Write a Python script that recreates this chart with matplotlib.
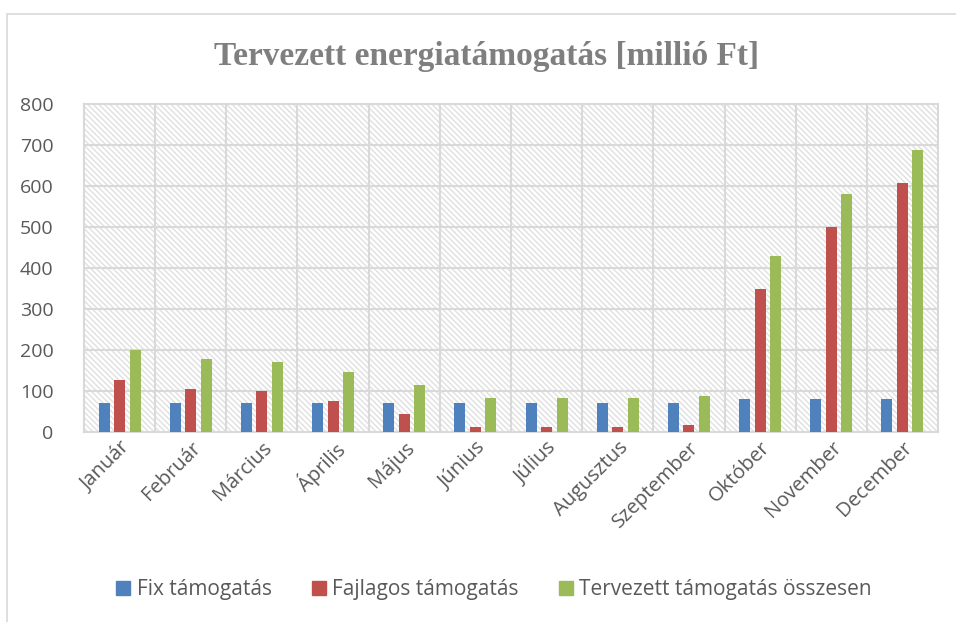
import numpy as np
import matplotlib.pyplot as plt
from matplotlib.patches import Rectangle
from matplotlib.lines import Line2D

plt.rcParams['hatch.color'] = '#e0e0e0'
plt.rcParams['hatch.linewidth'] = 1.0

months = ['Január', 'Február', 'Március', 'Április', 'Május', 'Június',
          'Július', 'Augusztus', 'Szeptember', 'Október', 'November', 'December']
fix = [70, 70, 70, 70, 70, 70, 70, 70, 70, 80, 80, 80]
fajlagos = [128, 106, 100, 75, 43, 13, 11, 12, 18, 349, 501, 608]
osszesen = [199, 177, 171, 146, 115, 84, 84, 84, 89, 429, 581, 688]

series = [
    ('Fix támogatás', fix, '#4f81bd'),
    ('Fajlagos támogatás', fajlagos, '#c0504d'),
    ('Tervezett támogatás összesen', osszesen, '#9bbb59'),
]

fig = plt.figure(figsize=(9.56, 6.22), dpi=100)
# outer chart border
fig.patches.append(Rectangle((7 / 956, -0.05), 1.0, 1 - 14 / 622 + 0.05,
                             transform=fig.transFigure, fill=False,
                             edgecolor='#d9d9d9', lw=1.2))

ax = fig.add_axes([84 / 956, 1 - 432 / 622, 854 / 956, 328 / 622])
x = np.arange(len(months))
w = 0.155
off = 0.218
for i, (name, vals, col) in enumerate(series):
    ax.bar(x + (i - 1) * off, vals, width=w, color=col, zorder=3)

ax.set_xlim(-0.5, len(months) - 0.5)
ax.set_ylim(0, 800)
ax.set_yticks(range(0, 801, 100))

# hatched background
ax.add_patch(Rectangle((0, 0), 1, 1, transform=ax.transAxes, facecolor='white',
                       hatch='\\' * 6, edgecolor='#e0e0e0', lw=0, zorder=0))
for yv in range(100, 800, 100):
    ax.axhline(yv, color='#d9d9d9', lw=1.5, zorder=1)
for xv in np.arange(0.5, len(months) - 0.5, 1):
    ax.axvline(xv, color='#d9d9d9', lw=1.5, zorder=1)
for s in ax.spines.values():
    s.set_color('#d9d9d9')
    s.set_linewidth(1.5)

ax.set_xticks(x)
ax.set_xticklabels(months, rotation=45, ha='right', rotation_mode='anchor',
                   fontsize=14.5, color='#595959', family='Open Sans')
ax.tick_params(axis='both', length=0)
ax.tick_params(axis='x', pad=4)
ax.tick_params(axis='y', pad=22)
for lab in ax.get_yticklabels():
    lab.set_fontsize(14)
    lab.set_color('#595959')
    lab.set_family('Open Sans')

fig.text(487 / 956, 1 - 56 / 622, 'Tervezett energiatámogatás [millió Ft]',
         ha='center', va='center', fontsize=24, fontweight='bold',
         color='#7f7f7f', family='Liberation Serif')

handles = [Line2D([0], [0], marker='s', ls='', markersize=10,
                  markerfacecolor=c, markeredgecolor=c) for _, _, c in series]
fig.legend(handles, [s[0] for s in series], loc='center', ncol=3,
           bbox_to_anchor=(494 / 956, 1 - 590 / 622), frameon=False,
           prop={'family': 'Open Sans', 'size': 15}, handlelength=0.7,
           handletextpad=0.3, columnspacing=1.9, labelcolor='#595959')

fig.savefig('out.png', dpi=100)
